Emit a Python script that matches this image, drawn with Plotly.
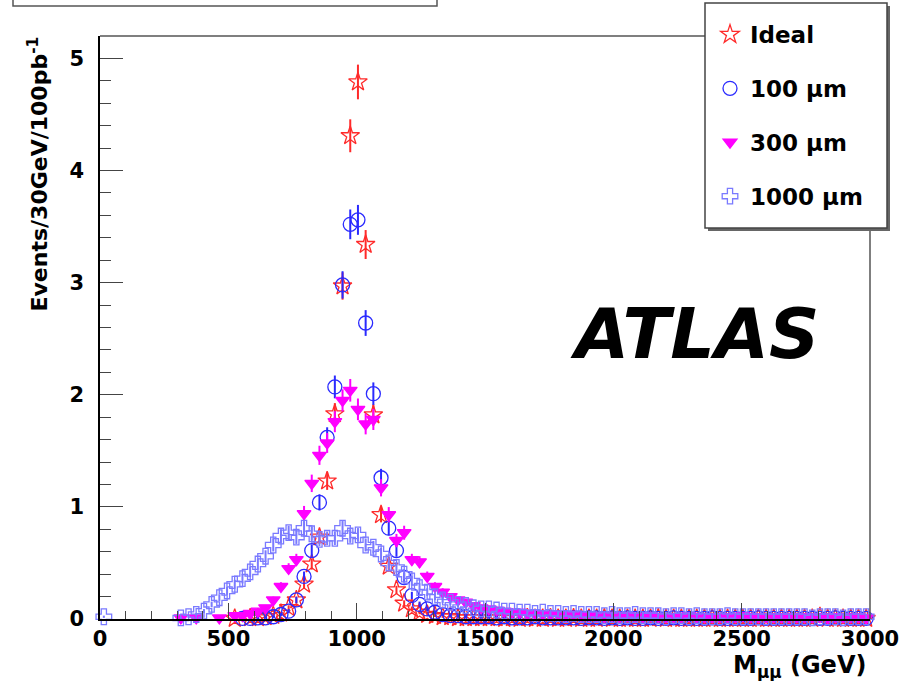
import math
import plotly.graph_objects as go

# ---------------- data ----------------
BIN_CENTERS = list(range(315, 3000, 30))  # 30 GeV bins, 300-3000 GeV

IDEAL = [None, None, None, None, None, None, None, 0.005, None, 0.01,
         0.01, 0.02, 0.03, 0.05, 0.10, 0.17, 0.31, 0.49, 0.73, 1.23,
         1.83, 2.97, 4.31, 4.79, 3.34, 1.82, 0.93, 0.47, 0.26, 0.14,
         0.09, 0.06, 0.04, 0.03, 0.02, 0.02, 0.01, 0.01, 0.01, 0.01,
         0.01, 0.01, 0.005, 0.01, 0.005, 0.01, 0.005, 0.005, 0.01, 0.005,
         0.005, 0.01, 0.005, 0.005, 0.005, 0.01, 0.005, 0.005, 0.005, 0.005,
         0.005, 0.005, 0.01, 0.005, 0.005, 0.005, 0.005, 0.005, 0.005, 0.005,
         0.005, 0.005, 0.005, 0.005, 0.005, 0.005, 0.005, 0.005, 0.005, 0.005,
         0.005, 0.005, 0.005, 0.02, 0.005, 0.005, 0.005, 0.005, 0.005, 0.005]

UM100 = [None, None, None, None, None, None, None, None, 0.005, 0.005,
         0.01, 0.01, 0.02, 0.04, 0.07, 0.17, 0.38, 0.61, 1.04, 1.62,
         2.07, 2.98, 3.52, 3.56, 2.64, 2.01, 1.26, 0.81, 0.61, 0.37,
         0.21, 0.13, 0.09, 0.06, 0.04, 0.03, 0.03, 0.02, 0.02, 0.02,
         0.02, 0.01, 0.02, 0.01, 0.01, 0.01, 0.02, 0.01, 0.01, 0.01,
         0.01, 0.01, 0.005, 0.01, 0.01, 0.005, 0.01, 0.005, 0.01, 0.005,
         0.005, 0.01, 0.005, 0.005, 0.01, 0.005, 0.005, 0.005, 0.005, 0.01,
         0.005, 0.005, 0.005, 0.005, 0.005, 0.01, 0.005, 0.005, 0.005, 0.005,
         0.005, 0.005, 0.005, 0.005, 0.005, 0.01, 0.005, 0.005, 0.005, 0.005]

UM300 = [0.01, None, 0.01, None, None, 0.01, None, 0.03, 0.03, 0.05,
         0.07, 0.10, 0.17, 0.29, 0.45, 0.53, 0.94, 1.21, 1.46, 1.57,
         1.76, 1.95, 2.04, 1.87, 1.74, 1.78, 1.17, 0.93, 0.70, 0.77,
         0.53, 0.51, 0.38, 0.29, 0.24, 0.20, 0.17, 0.15, 0.12, 0.10,
         0.09, 0.08, 0.07, 0.06, 0.06, 0.05, 0.05, 0.04, 0.04, 0.04,
         0.03, 0.04, 0.03, 0.03, 0.03, 0.02, 0.03, 0.02, 0.03, 0.02,
         0.02, 0.03, 0.02, 0.02, 0.02, 0.02, 0.03, 0.02, 0.02, 0.02,
         0.02, 0.02, 0.02, 0.03, 0.02, 0.02, 0.02, 0.02, 0.02, 0.02,
         0.02, 0.02, 0.02, 0.02, 0.01, 0.02, 0.02, 0.02, 0.02, 0.01]

UM1000_X0, UM1000_Y0 = 15, 0.02   # lone entry in the first bin
UM1000 = [0.01, 0.02, 0.04, 0.07, 0.13, 0.19, 0.25, 0.31, 0.36, 0.42,
          0.49, 0.56, 0.66, 0.74, 0.77, 0.73, 0.81, 0.76, 0.71, 0.72,
          0.72, 0.81, 0.74, 0.75, 0.66, 0.64, 0.58, 0.50, 0.46, 0.40,
          0.34, 0.28, 0.24, 0.20, 0.17, 0.15, 0.13, 0.12, 0.10, 0.09,
          0.09, 0.08, 0.07, 0.07, 0.06, 0.06, 0.05, 0.06, 0.05, 0.05,
          0.04, 0.05, 0.04, 0.04, 0.04, 0.03, 0.04, 0.03, 0.03, 0.04,
          0.03, 0.03, 0.03, 0.02, 0.03, 0.03, 0.02, 0.03, 0.02, 0.02,
          0.02, 0.03, 0.02, 0.02, 0.02, 0.02, 0.02, 0.02, 0.02, 0.02,
          0.02, 0.02, 0.01, 0.02, 0.02, 0.02, 0.01, 0.02, 0.02, 0.02]

EVENT_WEIGHT = 0.005  # per-event weight -> statistical error sqrt(w*N)

SERIES = [
    ("Ideal", BIN_CENTERS, IDEAL, "star-open", 14, "#ff2a2a"),
    ("100 μm", BIN_CENTERS, UM100, "circle-open", 14, "#2a2aff"),
    ("300 μm", BIN_CENTERS, UM300, "triangle-down", 12, "#ff00ff"),
    ("1000 μm", [UM1000_X0] + BIN_CENTERS, [UM1000_Y0] + UM1000, "cross-open", 13, "#7a7aff"),
]

FONT = "DejaVu Sans"

fig = go.Figure()
for i, (name, xs, ys, sym, size, col) in enumerate(SERIES):
    px = [x for x, y in zip(xs, ys) if y is not None]
    py = [y for y in ys if y is not None]
    err = [math.sqrt(EVENT_WEIGHT * y) for y in py]
    fig.add_trace(go.Scatter(
        x=px, y=py, mode="markers", name=name, legendgroup=f"g{i}",
        cliponaxis=False,
        marker=dict(symbol=sym, size=size, color=col,
                    line=dict(color=col, width=1.3)),
        error_y=dict(type="data", array=err, visible=True, width=0,
                     color=col, thickness=2),
    ))

FW, FH = 900, 681
X0PX, X1PX, Y0PX, Y1PX = 100, 870, 619, 36   # plot area in window pixels
L, T, R, B = X0PX, Y1PX, FW - X1PX, FH - Y0PX
W = X1PX - X0PX
H = Y0PX - Y1PX


def px2x(p):
    return (p - X0PX) / W


def px2y(p):
    return (Y0PX - p) / H


shapes = [
    # frame top and right
    dict(type="line", xref="paper", yref="paper", x0=0, x1=1, y0=1, y1=1,
         line=dict(color="#555555", width=1.5)),
    dict(type="line", xref="paper", yref="paper", x0=1, x1=1, y0=0, y1=1,
         line=dict(color="#555555", width=1.5)),
    # clipped title box at the top
    dict(type="rect", xref="paper", yref="paper", x0=px2x(13), x1=px2x(437),
         y0=px2y(6), y1=px2y(-10), line=dict(color="#555555", width=1.5),
         fillcolor="white"),
    # legend shadow
    dict(type="rect", xref="paper", yref="paper", x0=px2x(708), x1=px2x(890),
         y0=px2y(231), y1=px2y(6), line=dict(width=0), fillcolor="#666666"),
    # legend box
    dict(type="rect", xref="paper", yref="paper", x0=px2x(705), x1=px2x(887),
         y0=px2y(228), y1=px2y(3), line=dict(color="#444444", width=1.5),
         fillcolor="white"),
]

annotations = [
    dict(text="<b>Events/30GeV/100pb<sup>-1</sup></b>", xref="paper", yref="paper",
         x=px2x(37), y=px2y(35), xanchor="center", yanchor="top", textangle=-90,
         showarrow=False, font=dict(family=FONT, size=22, color="black")),
    dict(text="<b>M<sub>μμ</sub> (GeV)</b>", xref="paper", yref="paper",
         x=px2x(868), y=px2y(666), xanchor="right", yanchor="middle",
         showarrow=False, font=dict(family=FONT, size=24, color="black")),
    dict(text="<b><i>ATLAS</i></b>", xref="paper", yref="paper",
         x=px2x(694), y=px2y(334), xanchor="center", yanchor="middle",
         showarrow=False, font=dict(family=FONT, size=70, color="black")),
]

fig.update_layout(
    width=FW, height=FH,
    margin=dict(l=L, r=R, t=T, b=B, pad=0, autoexpand=False),
    paper_bgcolor="white", plot_bgcolor="white",
    font=dict(family=FONT, color="black"),
    showlegend=True,
    legend=dict(x=px2x(710), y=px2y(13), xanchor="left", yanchor="top",
                bgcolor="rgba(0,0,0,0)", borderwidth=0,
                font=dict(family=FONT, size=23, color="black", weight="bold"),
                tracegroupgap=21, itemwidth=30),
    shapes=shapes,
    annotations=annotations,
    xaxis=dict(range=[0, 3000], showgrid=False, zeroline=False,
               showline=True, linecolor="black", linewidth=1.5,
               ticks="inside", ticklen=16, tickwidth=1.2, tickcolor="#444444",
               tick0=0, dtick=500,
               tickfont=dict(family=FONT, size=21, color="black", weight="bold"),
               minor=dict(ticks="inside", ticklen=8, dtick=100, tickcolor="#444444",
                          showgrid=False)),
    yaxis=dict(range=[0, 5.2], showgrid=False, zeroline=False,
               showline=True, linecolor="black", linewidth=1.5,
               ticks="inside", ticklen=23, tickwidth=1.2, tickcolor="#444444",
               tick0=0, dtick=1, ticklabelstandoff=10,
               tickfont=dict(family=FONT, size=21, color="black", weight="bold"),
               minor=dict(ticks="inside", ticklen=11, dtick=0.2, tickcolor="#444444",
                          showgrid=False)),
)

# remove the browser's default 8 px body margin so the figure fills the window
fig.write_html("out.html",
               config={"displayModeBar": False},
               post_script="document.body.style.margin='0';document.body.style.overflow='hidden';")
